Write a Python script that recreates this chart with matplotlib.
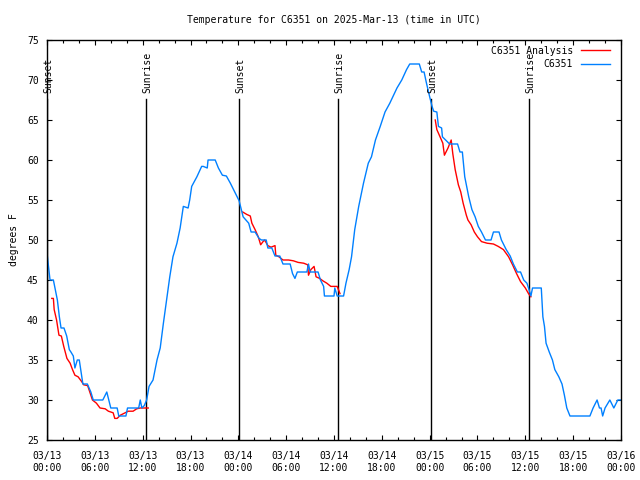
#Temperature for C6351, observed vs analysis
import numpy as np
import matplotlib.pyplot as plt

plt.rcParams['font.family'] = ['DejaVu Sans Mono']
plt.rcParams['font.size'] = 7

#hours since 2025-03-13 00:00 UTC, and degrees F
obs_hours = [0.04, 0.38, 0.8, 1.0, 1.3, 1.55, 1.76, 2.13, 2.47, 2.8, 3.0, 3.3, 3.5, 3.8, 4.05,
             4.5, 5.06, 5.5, 5.8, 7.0, 7.5, 8.0, 8.8, 9.0, 9.9, 10.1, 11.5, 11.7, 11.9, 12.2,
             12.5, 12.8, 13.3, 13.8, 14.2, 14.6, 15.0, 15.4, 15.8, 16.3, 16.7, 17.1, 17.7, 17.9,
             18.15, 18.8, 19.4, 19.6, 20.1, 20.2, 21.1, 21.5, 22.0, 22.5, 23.0, 23.6, 24.1, 24.6,
             25.3, 25.6, 26.1, 26.6, 26.9, 27.5, 27.7, 28.2, 28.6, 29.2, 29.6, 30.5, 30.8, 31.1,
             31.4, 32.6, 32.8, 33.0, 34.0, 34.3, 34.7, 34.8, 36.0, 36.1, 36.4, 37.2, 37.5, 37.9,
             38.2, 38.6, 39.1, 39.7, 40.3, 40.7, 41.2, 41.8, 42.4, 43.0, 43.9, 44.5, 45.1, 45.5,
             46.7, 47.0, 47.3, 47.6, 48.0, 48.3, 48.5, 48.9, 49.1, 49.5, 49.6, 50.2, 50.5, 51.5,
             51.8, 52.1, 52.4, 52.9, 53.3, 53.7, 54.1, 54.5, 55.0, 55.7, 56.0, 56.7, 57.0, 57.6,
             58.1, 58.5, 59.0, 59.4, 59.8, 60.2, 60.4, 60.7, 60.9, 62.0, 62.2, 62.4, 62.6, 63.0,
             63.4, 63.7, 64.2, 64.6, 64.9, 65.2, 65.6, 68.1, 68.5, 69.0, 69.3, 69.5, 69.7, 70.0,
             70.6, 71.1, 71.6, 72.0]
obs_temp = [48, 45, 45, 44, 42.5, 40.4, 39, 39, 38, 36.3, 36, 35.5, 34, 35, 35,
            32, 32, 31, 30, 30, 31, 29, 29, 28, 28, 29, 29, 30, 29, 29.3,
            30, 31.7, 32.5, 35, 36.5, 39.6, 42.5, 45.4, 47.9, 49.6, 51.5, 54.2, 54, 55,
            56.7, 57.9, 59.2, 59.2, 59, 60, 60, 59, 58.1, 58, 57.1, 55.9, 54.9, 52.9,
            52.1, 51, 51, 50.2, 50, 50, 49, 49, 48, 48, 47, 47, 45.8, 45.2,
            46, 46, 47, 46, 46, 45, 44.2, 43, 43, 44, 43, 43, 44.6, 46.3,
            47.9, 51.3, 54.2, 57.1, 59.6, 60.4, 62.5, 64.2, 66, 67.1, 69, 70, 71.3, 72,
            72, 71, 71, 69.6, 67.9, 66.7, 66.1, 66, 64.2, 64, 62.9, 62.3, 62, 62,
            61, 61, 57.9, 55.4, 53.8, 52.9, 51.7, 51, 50, 50, 51, 51, 50, 48.8,
            48, 47, 46, 46, 45, 44.6, 44, 43, 44, 44, 40.4, 39.2, 37.1, 36,
            35, 33.8, 32.9, 32, 30.6, 29, 28, 28, 29, 30, 29, 29, 28, 29,
            30, 29, 30, 30]

ana_hours = [0.6, 0.8, 0.9, 1.2, 1.5, 1.8, 2.1, 2.5, 2.9, 3.2, 3.5, 3.9, 4.35, 4.6, 5.1,
             5.4, 5.7, 6.2, 6.65, 7.3, 7.7, 8.3, 8.5, 8.8, 9.2, 9.6, 10.2, 10.8, 11.25, 11.7, 12.7,
             np.nan,
             24.55, 25.05, 25.5, 25.7, 26.1, 26.5, 26.8, 27.1, 27.3, 27.7, 28.1, 28.6, 28.7, 29.1,
             29.6, 30.3, 30.9, 31.5, 32.2, 32.7, 32.8, 33.1, 33.5, 33.75, 34.2, 34.6, 35.1, 35.6,
             36.3, 36.4, 36.75,
             np.nan,
             48.7, 48.9, 49.3, 49.65, 49.85, 50.3, 50.7, 50.9, 51.2, 51.6, 51.9, 52.2, 52.6, 52.8,
             53.2, 53.6, 54.0, 54.5, 55.2, 56.0, 56.6, 57.25, 57.9, 58.4, 58.9, 59.4, 60.0, 60.4, 60.7]
ana_temp = [42.7, 42.7, 41.3, 40, 38.1, 38, 36.7, 35.2, 34.6, 33.8, 33.1, 32.9, 32.3, 31.9, 31.8,
            30.9, 30, 29.6, 29, 28.9, 28.6, 28.4, 27.7, 27.7, 28.1, 28.3, 28.6, 28.6, 28.9, 29, 29,
            np.nan,
            53.5, 53.2, 53, 52.1, 51.3, 50.4, 49.4, 49.8, 50, 49.3, 49.1, 49.3, 48.1, 47.9,
            47.5, 47.5, 47.4, 47.2, 47.1, 46.9, 45.6, 46.3, 46.7, 45.4, 45.2, 44.9, 44.6, 44.2,
            44.2, 44.2, 43.3,
            np.nan,
            65, 63.8, 62.9, 62.1, 60.6, 61.5, 62.5, 60.8, 58.8, 56.9, 56, 54.6, 53.1, 52.5,
            51.9, 51, 50.4, 49.8, 49.6, 49.5, 49.2, 48.8, 47.9, 46.9, 45.8, 44.8, 44, 43.3, 42.9]

sun_hours = [0.05, 12.42, 24.1, 36.5, 48.2, 60.5]
sun_names = ['Sunset', 'Sunrise', 'Sunset', 'Sunrise', 'Sunset', 'Sunrise']

tick_hours = list(range(0, 73, 6))
tick_labels = ['03/13\n00:00', '03/13\n06:00', '03/13\n12:00', '03/13\n18:00',
               '03/14\n00:00', '03/14\n06:00', '03/14\n12:00', '03/14\n18:00',
               '03/15\n00:00', '03/15\n06:00', '03/15\n12:00', '03/15\n18:00',
               '03/16\n00:00']

fig = plt.figure(figsize=(6.4, 4.8), dpi=100)
ax = fig.add_axes([47/640, 40/480, 574/640, 400/480])

for h, name in zip(sun_hours, sun_names):
    ax.plot([h, h], [25, 67.6], color='black', lw=1)
    ax.text(h + 0.15, 68.4, name, rotation=90, ha='center', va='bottom')

ax.plot(ana_hours, ana_temp, color='#ff0000', lw=1, label='C6351 Analysis')
ax.plot(obs_hours, obs_temp, color='#0080ff', lw=1, label='C6351')

ax.set_xlim(0, 72)
ax.set_ylim(25, 75)
ax.set_xticks(tick_hours)
ax.set_xticklabels(tick_labels, linespacing=1.25)
ax.set_xticks(range(0, 73, 2), minor=True)
ax.set_yticks(range(25, 76, 5))
ax.tick_params(which='both', direction='in', top=True, right=True, width=0.8)
ax.tick_params(which='major', length=3.5)
ax.tick_params(axis='x', which='major', pad=8)
ax.tick_params(axis='y', which='major', pad=6)
ax.tick_params(which='minor', length=2)
for s in ax.spines.values():
    s.set_linewidth(1)

ax.set_ylabel('degrees F', labelpad=6)
ax.set_title('Temperature for C6351 on 2025-Mar-13 (time in UTC)', fontsize=7, pad=12)

leg = ax.legend(loc='upper right', bbox_to_anchor=(0.9876, 0.995), frameon=False,
                markerfirst=False, handlelength=3.0, borderaxespad=0, labelspacing=0.35)
for t in leg.get_texts():
    t.set_ha('right')

plt.savefig('out.png')
